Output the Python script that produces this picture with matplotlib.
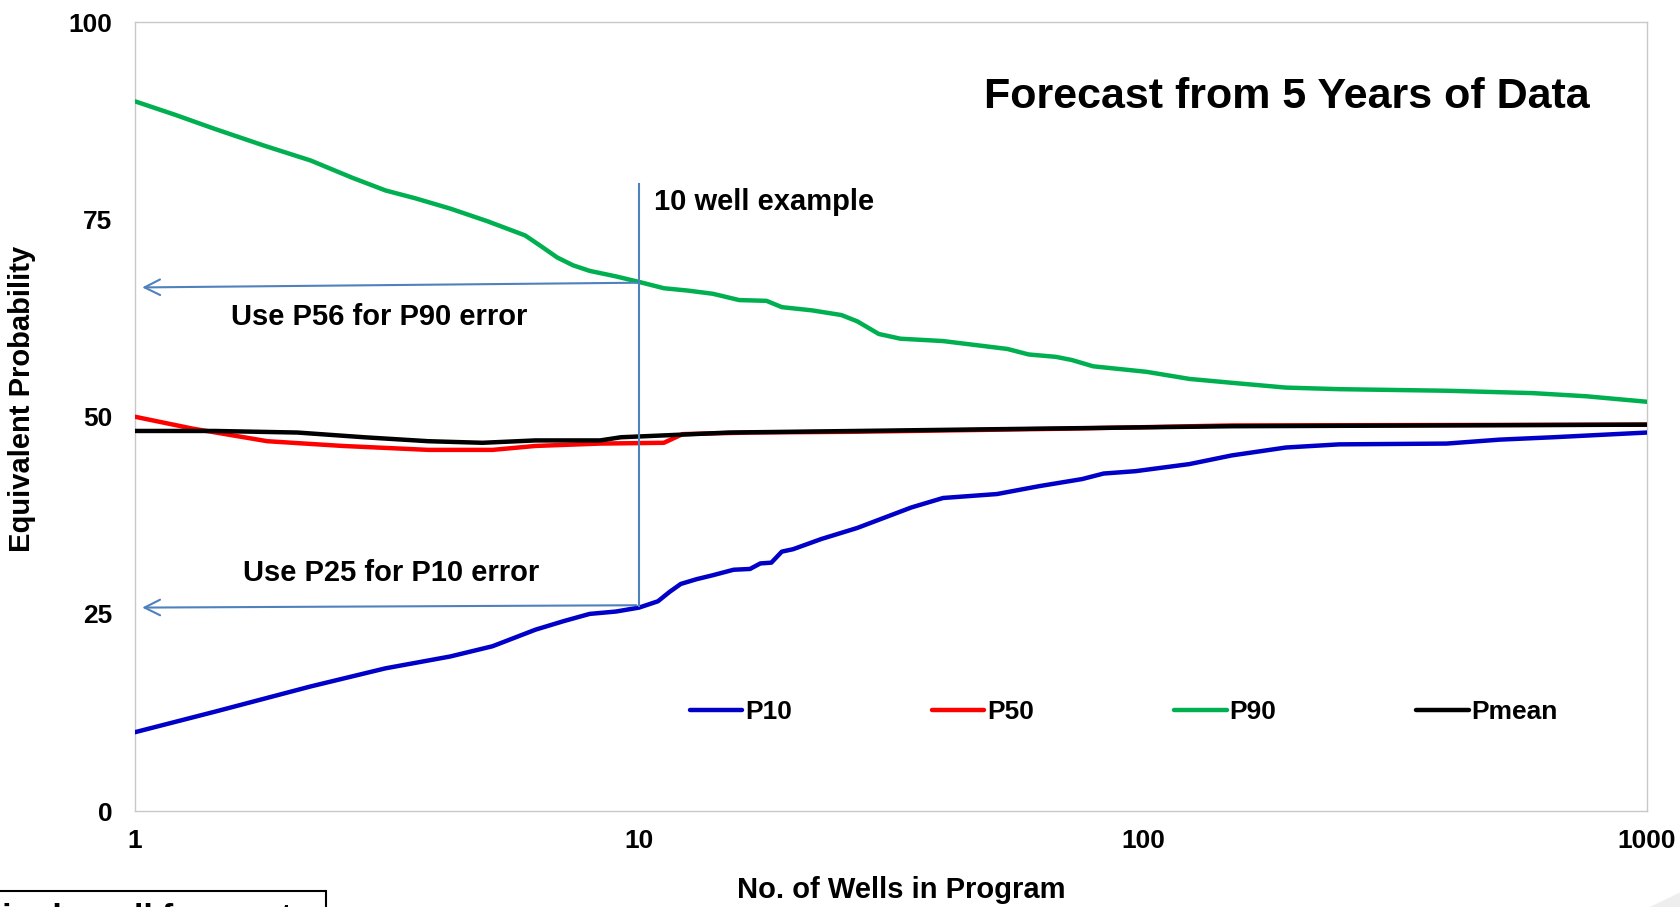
import matplotlib
matplotlib.use("Agg")
import matplotlib.pyplot as plt
from matplotlib.patches import Polygon, Rectangle
from matplotlib.ticker import FixedLocator, NullLocator

# --- data ---
p90_x = [1, 1.2, 1.44, 1.8, 2.23, 2.7, 3.14, 3.6, 4.22, 5.0, 5.94, 6.4, 6.88, 7.4, 7.98, 9.0,
         10, 11.2, 12.5, 14, 15.8, 17.9, 19.2, 22, 25.2, 27.1, 29.9, 33, 40.1, 53.8, 59.3,
         67.1, 72.2, 79.6, 101.6, 123.6, 150.4, 192, 245, 400, 593, 757, 1000]
p90_y = [90.0, 88.3, 86.5, 84.4, 82.5, 80.3, 78.7, 77.7, 76.4, 74.8, 73.0, 71.6, 70.2, 69.2,
         68.5, 67.8, 67.1, 66.3, 66.0, 65.6, 64.8, 64.7, 63.9, 63.5, 62.9, 62.1, 60.5, 59.9,
         59.6, 58.6, 57.9, 57.6, 57.2, 56.4, 55.7, 54.8, 54.3, 53.7, 53.5, 53.3, 53.0, 52.6,
         51.9]

p10_x = [1, 1.44, 2.23, 3.14, 4.22, 5.12, 6.23, 7.1, 7.98, 9.0, 10, 10.9, 11.5, 12.1, 13,
         14, 15.4, 16.6, 17.4, 18.3, 19.2, 20.2, 23, 27.1, 34.7, 40.1, 51.3, 62.2, 75.7,
         83.5, 96.6, 123.6, 150, 192, 245, 400, 510, 650, 1000]
p10_y = [10.0, 12.6, 15.8, 18.1, 19.6, 20.9, 23.0, 24.1, 25.0, 25.3, 25.8, 26.6, 27.8, 28.8,
         29.4, 29.9, 30.6, 30.7, 31.4, 31.5, 32.9, 33.2, 34.5, 35.9, 38.5, 39.7, 40.2,
         41.2, 42.1, 42.8, 43.1, 44.0, 45.1, 46.1, 46.5, 46.6, 47.1, 47.4, 48.0]

p50_x = [1, 1.3, 1.83, 2.58, 3.82, 5.12, 6.23, 8.37, 11.2, 12.2, 16.6, 27, 72, 150, 1000]
p50_y = [50.0, 48.5, 46.9, 46.3, 45.8, 45.8, 46.3, 46.6, 46.7, 47.8, 48.0, 48.1, 48.5, 48.9, 49.0]

pmean_x = [1, 1.44, 2.1, 2.85, 3.82, 4.89, 6.23, 8.37, 9.2, 11.8, 15.1, 27, 150, 1000]
pmean_y = [48.2, 48.2, 48.0, 47.4, 46.9, 46.7, 47.0, 47.0, 47.4, 47.7, 48.0, 48.2, 48.8, 49.0]

series = [("P10", p10_x, p10_y, "#0000c8"),
          ("P50", p50_x, p50_y, "#ff0000"),
          ("P90", p90_x, p90_y, "#00b050"),
          ("Pmean", pmean_x, pmean_y, "#000000")]

x_ticks = [1, 10, 100, 1000]
y_ticks = [0, 25, 50, 75, 100]

ANNOT = "#4f81bd"
BOLD = dict(family=["Liberation Sans", "DejaVu Sans"], weight="bold")
NARROW = dict(family=["Liberation Sans Narrow", "Liberation Sans", "DejaVu Sans"], weight="bold")

fig = plt.figure(figsize=(16.8, 9.07), dpi=100)
ax = fig.add_axes([0.0804, 0.1058, 0.9, 0.8694])

for name, xs, ys, col in series:
    ax.plot(xs, ys, color=col, lw=3.2, label=name, solid_joinstyle="round",
            solid_capstyle="round", zorder=3)

ax.set_xscale("log")
ax.set_xlim(1, 1000)
ax.set_ylim(0, 100)
ax.xaxis.set_major_locator(FixedLocator(x_ticks))
ax.xaxis.set_minor_locator(NullLocator())
ax.set_xticks(x_ticks)
ax.set_xticklabels([str(t) for t in x_ticks], fontsize=19, **BOLD)
ax.set_yticks(y_ticks)
ax.set_yticklabels([str(t) for t in y_ticks], fontsize=19, **BOLD)
ax.tick_params(axis="y", length=0, pad=16.5)
ax.tick_params(axis="x", length=0, pad=13)
for sp in ax.spines.values():
    sp.set_color("#c8c8c8")
    sp.set_linewidth(1.0)

ax.set_ylabel("Equivalent Probability", fontsize=21, **NARROW)
ax.yaxis.set_label_coords(-0.0652, 0.523)
ax.set_xlabel("No. of Wells in Program", fontsize=21, **BOLD)
ax.xaxis.set_label_coords(0.5066, -0.083)

# 10 well example annotation
ax.plot([10, 10], [26.0, 79.5], color=ANNOT, lw=1.5, zorder=4)
ax.annotate("", xy=(1.02, 66.4), xytext=(10, 67.0),
            arrowprops=dict(arrowstyle="->", color=ANNOT, lw=1.5,
                            mutation_scale=28), zorder=4)
ax.annotate("", xy=(1.02, 25.8), xytext=(10, 26.1),
            arrowprops=dict(arrowstyle="->", color=ANNOT, lw=1.5,
                            mutation_scale=28), zorder=4)
ax.text(10.7, 77.2, "10 well example", fontsize=21, ha="left", va="center", **BOLD)
ax.text(3.05, 62.6, "Use P56 for P90 error", fontsize=21, ha="center", va="center", **BOLD)
ax.text(3.22, 30.2, "Use P25 for P10 error", fontsize=21, ha="center", va="center", **BOLD)
ax.text(0.762, 0.905, "Forecast from 5 Years of Data", transform=ax.transAxes,
        fontsize=31, ha="center", va="center", **BOLD)

leg = ax.legend(loc="center left", bbox_to_anchor=(0.351, 0.125), ncol=4, frameon=False,
                handlelength=2.0, handletextpad=0.1, columnspacing=5.3,
                prop=dict(size=19, family=NARROW["family"], weight="bold"))

# cut-off box at the bottom left and slide corner decoration
fig.patches.append(Rectangle((-0.01, -0.05), 0.204, 0.0677, transform=fig.transFigure,
                             fill=False, edgecolor="black", lw=1.5))
fig.text(-0.012, 0.0046, "Single well forecasts", fontsize=24, ha="left", va="top", **BOLD)
fig.patches.append(Polygon([(0.982, 0.0), (1.0, 0.016), (1.0, 0.0)], closed=True,
                           transform=fig.transFigure, facecolor="#eeeeee", edgecolor="none"))

fig.savefig("out.png", dpi=100)
